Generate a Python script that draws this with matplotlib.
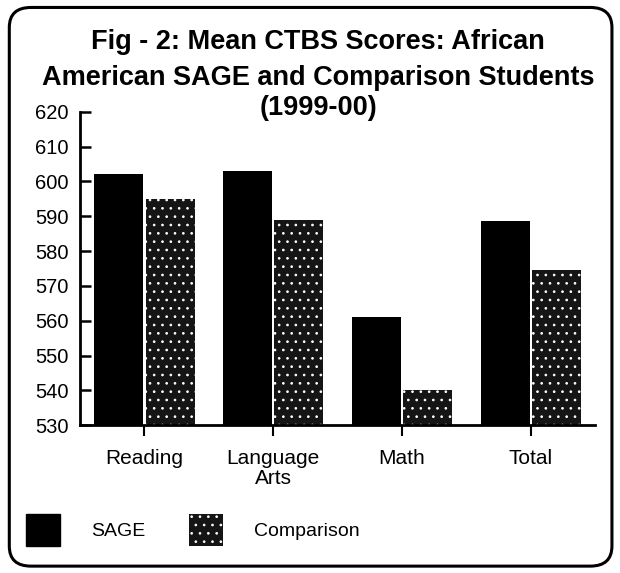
import numpy as np
import matplotlib
matplotlib.use("Agg")
import matplotlib.pyplot as plt
from matplotlib.patches import FancyBboxPatch, Patch

plt.rcParams['font.family'] = ['Liberation Sans', 'DejaVu Sans']
plt.rcParams['hatch.linewidth'] = 0.7

# data
categories = ["Reading", "Language\nArts", "Math", "Total"]
sage = [602, 603, 561, 588.5]
comparison = [595, 589, 540, 574.5]
y_ticks = [530, 540, 550, 560, 570, 580, 590, 600, 610, 620]

fig = plt.figure(figsize=(6.2, 5.73), dpi=100)

# rounded frame around the whole figure
frame = FancyBboxPatch((0.015, 0.012), 0.972, 0.975,
                       boxstyle="round,pad=0,rounding_size=0.035",
                       transform=fig.transFigure, facecolor="none",
                       edgecolor="black", linewidth=2.2, zorder=-1)
fig.patches.append(frame)

title_lines = ["Fig - 2: Mean CTBS Scores: African",
               "American SAGE and Comparison Students",
               "(1999-00)"]
for ty, line in zip([0.927, 0.864, 0.812], title_lines):
    fig.text(0.513, ty, line, ha="center", va="center", fontsize=19.5, fontweight="bold")

ax = fig.add_axes([0.129, 0.258, 0.831, 0.547])
ax.patch.set_alpha(0)

x = np.arange(len(categories))
w = 0.38
ax.bar(x - 0.2, sage, width=w, color="black", linewidth=0)
ax.bar(x + 0.2, comparison, width=w, color="#151515", edgecolor="white",
       hatch="..", linewidth=0)

ax.set_ylim(530, 620)
ax.set_xlim(-0.5, 3.5)
ax.set_yticks(y_ticks)
ax.set_xticks(x)
ax.set_xticklabels(categories, fontsize=15, linespacing=1.05)
ax.tick_params(axis="y", direction="in", length=8, width=1.8, labelsize=14.5, pad=8)
ax.tick_params(axis="x", direction="out", length=8, width=1.5, pad=9)
for s in ["top", "right"]:
    ax.spines[s].set_visible(False)
ax.spines["left"].set_linewidth(2)
ax.spines["bottom"].set_linewidth(2)

handles = [Patch(facecolor="black", edgecolor="black", label="SAGE"),
           Patch(facecolor="#151515", edgecolor="white", hatch="..", linewidth=0, label="Comparison")]
fig.legend(handles=handles, loc="center left", bbox_to_anchor=(0.03, 0.075), ncol=2,
           frameon=False, fontsize=14, handlelength=1.75, handleheight=2.2,
           columnspacing=2.2, handletextpad=1.6, borderaxespad=0)

fig.savefig("out.png", dpi=100)
